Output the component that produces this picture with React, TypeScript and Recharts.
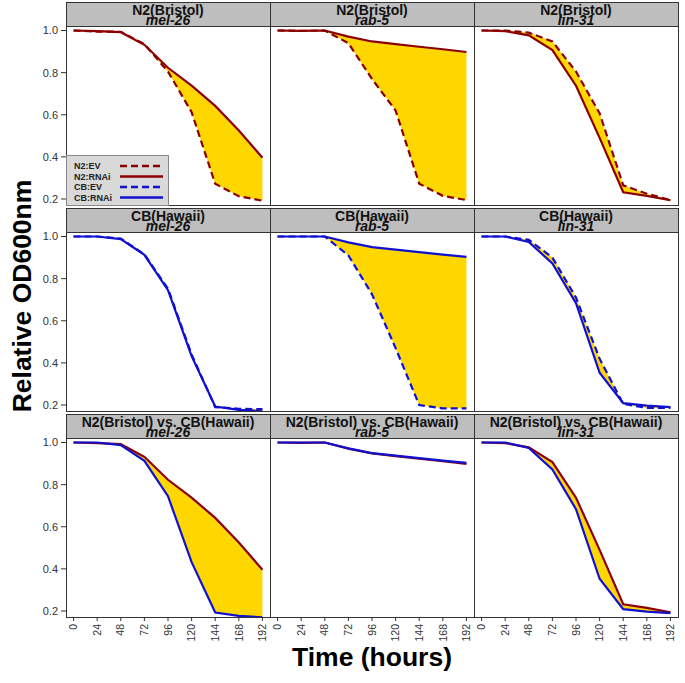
import React from 'react';
import { ComposedChart, Line, Area, XAxis, YAxis } from 'recharts';

// ---------- data ----------
const hours = [0, 24, 48, 72, 96, 120, 144, 168, 192];
const genes = ['mel-26', 'rab-5', 'lin-31'];
const rowTitles = ['N2(Bristol)', 'CB(Hawaii)', 'N2(Bristol) vs. CB(Hawaii)'];
const xTicks = [0, 24, 48, 72, 96, 120, 144, 168, 192];
const yTicks = [0.2, 0.4, 0.6, 0.8, 1.0];
const legendLabels = ['N2:EV', 'N2:RNAi', 'CB:EV', 'CB:RNAi'];

const n2EvMel26 = [1.0, 0.995, 0.994, 0.935, 0.805, 0.612, 0.272, 0.213, 0.192];
const n2RnaiMel26 = [1.0, 0.997, 0.992, 0.932, 0.823, 0.738, 0.642, 0.525, 0.396];
const cbEvMel26 = [1.0, 1.0, 0.99, 0.915, 0.752, 0.44, 0.19, 0.182, 0.18];
const cbRnaiMel26 = [1.0, 1.0, 0.988, 0.913, 0.745, 0.432, 0.193, 0.177, 0.17];

const n2EvRab5 = [1.0, 0.998, 1.0, 0.94, 0.77, 0.62, 0.273, 0.215, 0.195];
const n2RnaiRab5 = [1.0, 0.998, 1.0, 0.971, 0.948, 0.935, 0.923, 0.911, 0.898];
const cbEvRab5 = [1.0, 1.0, 1.0, 0.91, 0.726, 0.47, 0.2, 0.184, 0.184];
const cbRnaiRab5 = [1.0, 1.0, 1.0, 0.972, 0.95, 0.938, 0.926, 0.914, 0.903];

const n2EvLin31 = [1.0, 1.0, 0.99, 0.948, 0.805, 0.607, 0.265, 0.225, 0.195];
const n2RnaiLin31 = [1.0, 0.997, 0.977, 0.907, 0.738, 0.49, 0.232, 0.215, 0.194];
const cbEvLin31 = [1.0, 1.0, 0.984, 0.9, 0.71, 0.42, 0.205, 0.186, 0.186];
const cbRnaiLin31 = [1.0, 1.0, 0.974, 0.872, 0.683, 0.353, 0.209, 0.197, 0.19];

// ---------- styles ----------
const FONT = '"Liberation Sans", Arial, Helvetica, sans-serif';
const RED = '#8B0000';
const BLUE = '#1010D0';
const GOLD = '#FFD700';
const STRIP = '#BEBEBE';
const FRAME = '#333333';
const DASH = '7 4';

const colLeft = [66, 270, 474];
const panelW = 204;
const stripTop = [2, 208, 414];
const stripH = 24;
const plotH = 179;
const pad = 8;
const xDomain = [-7.68, 199.68];
const yDomain = [0.1715, 1.0214];

type Series = { values: number[]; color: string; dash?: string };

const panelSeries: Series[][][] = [
  [
    [{ values: n2EvMel26, color: RED, dash: DASH }, { values: n2RnaiMel26, color: RED }],
    [{ values: n2EvRab5, color: RED, dash: DASH }, { values: n2RnaiRab5, color: RED }],
    [{ values: n2EvLin31, color: RED, dash: DASH }, { values: n2RnaiLin31, color: RED }],
  ],
  [
    [{ values: cbEvMel26, color: BLUE, dash: DASH }, { values: cbRnaiMel26, color: BLUE }],
    [{ values: cbEvRab5, color: BLUE, dash: DASH }, { values: cbRnaiRab5, color: BLUE }],
    [{ values: cbEvLin31, color: BLUE, dash: DASH }, { values: cbRnaiLin31, color: BLUE }],
  ],
  [
    [{ values: n2RnaiMel26, color: RED }, { values: cbRnaiMel26, color: BLUE }],
    [{ values: n2RnaiRab5, color: RED }, { values: cbRnaiRab5, color: BLUE }],
    [{ values: n2RnaiLin31, color: RED }, { values: cbRnaiLin31, color: BLUE }],
  ],
];

const legendStyles = [
  { color: RED, dash: DASH },
  { color: RED },
  { color: BLUE, dash: DASH },
  { color: BLUE },
];

const RotTick = (props: any) => {
  const { x, y, payload } = props;
  return (
    <text
      x={x}
      y={y}
      transform={`rotate(-90 ${x} ${y})`}
      textAnchor="end"
      dy="0.35em"
      fontSize={10.5}
      fill="#333"
      fontFamily={FONT}
    >
      {payload.value}
    </text>
  );
};

function Panel({ row, col }: { row: number; col: number }) {
  const [a, b] = panelSeries[row][col];
  const data = hours.map((h, i) => ({
    h,
    a: a.values[i],
    b: b.values[i],
    band: [a.values[i], b.values[i]],
  }));
  const showY = col === 0;
  const showX = row === 2;
  const yAxisW = showY ? colLeft[0] : 0;
  const xAxisH = showX ? 50 : 0;
  const bottomPad = showX ? 0 : pad;
  const width = panelW + yAxisW;
  const height = plotH + xAxisH + pad + bottomPad;
  const left = showY ? 0 : colLeft[col];
  const top = stripTop[row] + stripH - pad;
  return (
    <div style={{ position: 'absolute', left, top, width, height }}>
      <ComposedChart
        width={width}
        height={height}
        data={data}
        margin={{ top: pad, right: 0, bottom: bottomPad, left: 0 }}
      >
        <XAxis
          xAxisId="x"
          dataKey="h"
          type="number"
          domain={xDomain}
          ticks={xTicks}
          interval={0}
          allowDataOverflow
          axisLine={false}
          height={xAxisH}
          hide={!showX}
          tickLine={{ stroke: FRAME }}
          tickSize={4}
          tickMargin={3}
          tick={<RotTick />}
        />
        <XAxis
          xAxisId="xi"
          dataKey="h"
          type="number"
          domain={xDomain}
          ticks={xTicks}
          interval={0}
          allowDataOverflow
          axisLine={false}
          mirror
          hide={showX}
          tick={false}
          tickLine={{ stroke: FRAME }}
          tickSize={4}
        />
        <YAxis
          yAxisId="y"
          type="number"
          domain={yDomain}
          ticks={yTicks}
          interval={0}
          allowDataOverflow
          axisLine={false}
          width={yAxisW}
          hide={!showY}
          tickLine={{ stroke: FRAME }}
          tickSize={5}
          tickMargin={3}
          tickFormatter={(v: number) => v.toFixed(1)}
          tick={{ fontSize: 11, fill: '#333', fontFamily: FONT }}
        />
        <YAxis
          yAxisId="yr"
          orientation="right"
          type="number"
          domain={yDomain}
          ticks={yTicks}
          interval={0}
          allowDataOverflow
          axisLine={false}
          mirror
          width={0}
          tick={false}
          tickLine={{ stroke: FRAME }}
          tickSize={4}
        />
        <Area
          xAxisId="x"
          yAxisId="y"
          dataKey="band"
          type="linear"
          fill={GOLD}
          fillOpacity={1}
          stroke="none"
          dot={false}
          activeDot={false}
          isAnimationActive={false}
        />
        <Line
          xAxisId="x"
          yAxisId="y"
          dataKey="a"
          type="linear"
          stroke={a.color}
          strokeWidth={2.2}
          strokeDasharray={a.dash}
          dot={false}
          activeDot={false}
          isAnimationActive={false}
        />
        <Line
          xAxisId="x"
          yAxisId="y"
          dataKey="b"
          type="linear"
          stroke={b.color}
          strokeWidth={2.2}
          strokeDasharray={b.dash}
          dot={false}
          activeDot={false}
          isAnimationActive={false}
        />
      </ComposedChart>
    </div>
  );
}

function Overlay() {
  const items: React.ReactNode[] = [];
  for (let r = 0; r < 3; r++) {
    for (let c = 0; c < 3; c++) {
      const x = colLeft[c];
      const y = stripTop[r];
      const cx = x + panelW / 2;
      items.push(
        <g key={`p${r}${c}`}>
          <rect x={x + 0.5} y={y + 0.5} width={panelW} height={stripH} fill={STRIP} stroke={FRAME} strokeWidth={1} />
          <text x={cx} y={y + 12.5} textAnchor="middle" fontSize={14} fontWeight="bold" fontFamily={FONT} fill="#111">
            {rowTitles[r]}
          </text>
          <text x={cx} y={y + 23} textAnchor="middle" fontSize={14} fontWeight="bold" fontStyle="italic" fontFamily={FONT} fill="#111">
            {genes[c]}
          </text>
          <rect x={x + 0.5} y={y + stripH + 0.5} width={panelW} height={plotH} fill="none" stroke={FRAME} strokeWidth={1} />
        </g>
      );
    }
  }
  // legend
  const lx = 66;
  const ly = 155;
  items.push(
    <g key="legend">
      <rect x={lx + 0.5} y={ly + 0.5} width={102} height={50} fill="#D9D9D9" stroke="#888" strokeWidth={1} />
      {legendLabels.map((lab, i) => {
        const yy = ly + 11 + i * 10.5;
        return (
          <g key={lab}>
            <text x={lx + 8} y={yy + 3.2} fontSize={9} fontWeight="bold" fontFamily={FONT} fill="#222">
              {lab}
            </text>
            <line
              x1={lx + 54}
              x2={lx + 97}
              y1={yy}
              y2={yy}
              stroke={legendStyles[i].color}
              strokeWidth={2.4}
              strokeDasharray={legendStyles[i].dash}
            />
          </g>
        );
      })}
    </g>
  );
  return (
    <svg width={685} height={683} style={{ position: 'absolute', left: 0, top: 0, pointerEvents: 'none' }}>
      {items}
      <text
        x={31}
        y={296}
        transform="rotate(-90 31 296)"
        textAnchor="middle"
        fontSize={26.5}
        fontWeight="bold"
        fontFamily={FONT}
        fill="#000"
      >
        Relative OD600nm
      </text>
      <text x={372} y={666} textAnchor="middle" fontSize={26.5} fontWeight="bold" fontFamily={FONT} fill="#000">
        Time (hours)
      </text>
    </svg>
  );
}

export default function App() {
  const panels: React.ReactNode[] = [];
  for (let r = 0; r < 3; r++) for (let c = 0; c < 3; c++) panels.push(<Panel key={`${r}-${c}`} row={r} col={c} />);
  return (
    <div style={{ position: 'absolute', left: 0, top: 0, width: 685, height: 683, background: '#fff', fontFamily: FONT }}>
      {panels}
      <Overlay />
    </div>
  );
}
